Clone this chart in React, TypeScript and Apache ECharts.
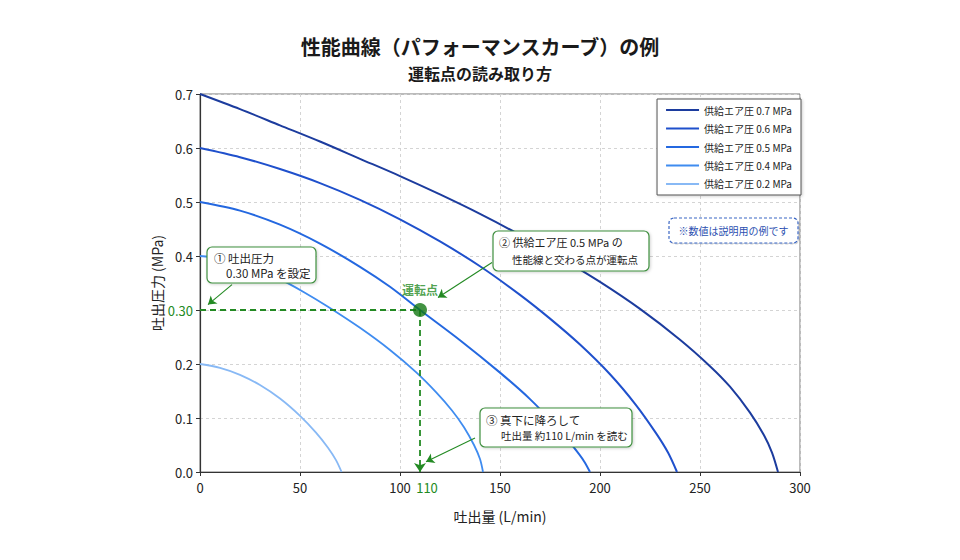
import React, { useEffect, useRef } from "react";
import * as echarts from "echarts";

// Performance curves: discharge flow (L/min) vs discharge pressure (MPa)
const Q_07 = [0, 20, 40, 60, 80, 100, 120, 140, 160, 180, 200, 220, 240, 255, 265, 275, 282, 286, 289];
const P_07 = [0.7, 0.672, 0.642, 0.612, 0.58, 0.548, 0.514, 0.478, 0.439, 0.397, 0.352, 0.302, 0.245, 0.196, 0.158, 0.11, 0.068, 0.036, 0];
const Q_06 = [0, 20, 40, 60, 80, 100, 120, 140, 160, 175, 190, 205, 218, 228, 234, 238.5];
const P_06 = [0.6, 0.583, 0.561, 0.535, 0.504, 0.468, 0.427, 0.381, 0.328, 0.284, 0.236, 0.181, 0.124, 0.072, 0.036, 0];
const Q_05 = [0, 20, 40, 60, 80, 95, 110, 130, 150, 165, 178, 187, 192, 195];
const P_05 = [0.5, 0.484, 0.458, 0.423, 0.38, 0.343, 0.3, 0.244, 0.184, 0.135, 0.085, 0.045, 0.02, 0];
const Q_04 = [0, 13, 26, 39, 52, 64, 80, 95, 108, 118, 126, 132, 137, 140, 141.5];
const P_04 = [0.4, 0.394, 0.381, 0.359, 0.333, 0.306, 0.267, 0.226, 0.185, 0.148, 0.114, 0.083, 0.05, 0.024, 0];
const Q_02 = [0, 10, 20, 30, 40, 50, 58, 64, 68, 70.8];
const P_02 = [0.2, 0.193, 0.18, 0.161, 0.136, 0.104, 0.073, 0.045, 0.022, 0];

const SERIES_NAMES = [
  "供給エア圧 0.7 MPa",
  "供給エア圧 0.6 MPa",
  "供給エア圧 0.5 MPa",
  "供給エア圧 0.4 MPa",
  "供給エア圧 0.2 MPa",
];
const SERIES_COLORS = ["#1c3c9e", "#1f50cc", "#2468e0", "#3f8cf0", "#88b9f5"];
const SERIES_WIDTHS = [2, 2, 2, 1.8, 1.8];

// Operating point
const OP_Q = 110;
const OP_P = 0.3;

const X_LABELS = [0, 50, 100, 110, 150, 200, 250, 300];
const Y_LABELS = [0, 0.1, 0.2, 0.3, 0.4, 0.5, 0.6, 0.7];

const GREEN = "#238a23";
const FONT = "Noto Sans CJK JP";

const zip = (q: number[], p: number[]) => q.map((v, i) => [v, p[i]]);

export default function App() {
  const ref = useRef<HTMLDivElement>(null);

  useEffect(() => {
    if (!ref.current) return;
    const chart = echarts.init(ref.current, null, { renderer: "svg" });
    const curves = [
      zip(Q_07, P_07),
      zip(Q_06, P_06),
      zip(Q_05, P_05),
      zip(Q_04, P_04),
      zip(Q_02, P_02),
    ];

    const curveSeries = curves.map((d, i) => ({
      name: SERIES_NAMES[i],
      type: "line",
      data: d,
      smooth: 0.3,
      symbol: "none",
      lineStyle: { color: SERIES_COLORS[i], width: SERIES_WIDTHS[i] },
      itemStyle: { color: SERIES_COLORS[i] },
      z: 3,
    }));

    const box = (x: number, y: number, w: number, h: number, stroke: string, dash?: number[]) => ({
      type: "rect",
      shape: { x, y, width: w, height: h, r: 5 },
      style: {
        fill: "#fff",
        stroke,
        lineWidth: 1.2,
        lineDash: dash,
        shadowBlur: dash ? 0 : 3,
        shadowColor: "rgba(0,0,0,0.18)",
        shadowOffsetX: 1,
        shadowOffsetY: 1,
      },
      z: 20,
    });
    const txt = (x: number, y: number, text: string, size = 10.5, fill = "#222") => ({
      type: "text",
      x,
      y,
      style: {
        text,
        fill,
        font: `${size}px "${FONT}"`,
        textAlign: "left",
        textVerticalAlign: "middle",
      },
      z: 21,
    });

    chart.setOption({
      animation: false,
      backgroundColor: "#fff",
      textStyle: { fontFamily: FONT },
      title: [
        {
          text: "性能曲線（パフォーマンスカーブ）の例",
          left: "center",
          top: 31,
          textStyle: { fontSize: 20, fontWeight: "bold", color: "#1a1a1a", fontFamily: FONT },
        },
        {
          text: "運転点の読み取り方",
          left: "center",
          top: 60,
          textStyle: { fontSize: 16, fontWeight: "bold", color: "#1a1a1a", fontFamily: FONT },
        },
      ],
      legend: {
        data: SERIES_NAMES,
        orient: "vertical",
        right: 159,
        top: 99,
        itemWidth: 33,
        itemHeight: 10,
        itemGap: 8.5,
        itemStyle: { opacity: 0 },
        padding: [6, 9, 6, 8],
        backgroundColor: "#fff",
        borderColor: "#555",
        borderWidth: 1,
        shadowBlur: 3,
        shadowColor: "rgba(0,0,0,0.2)",
        shadowOffsetX: 1,
        shadowOffsetY: 1,
        textStyle: { fontSize: 10, color: "#222", fontFamily: FONT },
      },
      grid: {
        left: 200,
        right: 160,
        top: 94,
        bottom: 88,
        show: true,
        borderColor: "#777",
        borderWidth: 1,
      },
      xAxis: {
        type: "value",
        min: 0,
        max: 300,
        interval: 50,
        name: "吐出量 (L/min)",
        nameLocation: "middle",
        nameGap: 37,
        nameMoveOverlap: false,
        nameTextStyle: { fontSize: 14, color: "#222", fontFamily: FONT },
        axisLine: { lineStyle: { color: "#333", width: 1.2 } },
        axisTick: { show: true, length: 4, lineStyle: { color: "#333" } },
        axisLabel: {
          customValues: X_LABELS,
          margin: 9,
          fontSize: 13,
          color: "#222",
          fontFamily: FONT,
          formatter: (v: number) => (v === OP_Q ? `{g|${v}}` : String(v)),
          rich: { g: { color: GREEN, fontSize: 13, fontFamily: FONT, padding: [0, 0, 0, 14] } },
        },
        splitLine: { show: true, lineStyle: { color: "#d4d4d4", type: [3, 3] } },
      },
      yAxis: {
        type: "value",
        min: 0,
        max: 0.7,
        interval: 0.1,
        name: "吐出圧力 (MPa)",
        nameLocation: "middle",
        nameGap: 36,
        nameMoveOverlap: false,
        nameTextStyle: { fontSize: 14, color: "#222", fontFamily: FONT },
        axisLine: { show: true, lineStyle: { color: "#333", width: 1.2 } },
        axisTick: { show: true, length: 4, lineStyle: { color: "#333" } },
        axisLabel: {
          customValues: Y_LABELS,
          margin: 7,
          fontSize: 13,
          color: "#222",
          fontFamily: FONT,
          formatter: (v: number) =>
            Math.abs(v - OP_P) < 1e-9 ? `{g|${OP_P.toFixed(2)}}` : v.toFixed(1),
          rich: { g: { color: GREEN, fontSize: 13, fontFamily: FONT } },
        },
        splitLine: { show: true, lineStyle: { color: "#d4d4d4", type: [3, 3] } },
      },
      series: [
        ...curveSeries,
        {
          name: "運転点",
          type: "scatter",
          data: [[OP_Q, OP_P]],
          symbolSize: 14,
          itemStyle: { color: "#137813" },
          label: {
            show: true,
            position: "top",
            distance: 8,
            formatter: "運転点",
            color: GREEN,
            fontSize: 12,
            fontWeight: "bold",
            fontFamily: FONT,
          },
          z: 10,
          markLine: {
            silent: true,
            symbol: ["none", "arrow"],
            symbolSize: 9,
            lineStyle: { color: GREEN, width: 1.8, type: [6, 4] },
            label: { show: false },
            data: [
              [
                { coord: [0, OP_P], symbol: "none" },
                { coord: [OP_Q, OP_P], symbol: "none" },
              ],
              [
                { coord: [OP_Q, OP_P], symbol: "none" },
                { coord: [OP_Q, 0], symbol: "arrow" },
              ],
            ],
            z: 5,
          },
        },
        {
          name: "注記",
          type: "line",
          data: [],
          markLine: {
            silent: true,
            symbol: ["none", "arrow"],
            symbolSize: 8,
            lineStyle: { color: GREEN, width: 1.1, type: "solid" },
            label: { show: false },
            data: [
              [{ coord: [16, 0.347] }, { coord: [4, 0.31] }],
              [{ coord: [146, 0.388] }, { coord: [119, 0.323] }],
              [{ coord: [137.5, 0.063] }, { coord: [113, 0.019] }],
            ],
            z: 6,
          },
        },
      ],
      graphic: [
        box(207, 247, 109, 36, "#3f8f3f"),
        txt(214, 258, "① 吐出圧力", 11.5),
        txt(226, 273, "0.30 MPa を設定", 11.5),
        box(493, 231, 156, 40, "#3f8f3f"),
        txt(499, 242, "② 供給エア圧 0.5 MPa の", 11),
        txt(512, 259, "性能線と交わる点が運転点", 10.5),
        box(480, 408, 152, 39, "#3f8f3f"),
        txt(486, 420, "③ 真下に降ろして", 11.5),
        txt(501, 435, "吐出量 約110 L/min を読む", 10.5),
        box(669, 218, 129, 25, "#3a66c4", [3, 2]),
        {
          type: "text",
          x: 733.5,
          y: 230.5,
          style: {
            text: "※数値は説明用の例です",
            fill: "#2b4fb0",
            font: `10px "${FONT}"`,
            textAlign: "center",
            textVerticalAlign: "middle",
          },
          z: 21,
        },
      ],
    });

    return () => chart.dispose();
  }, []);

  return (
    <div
      ref={ref}
      style={{ position: "fixed", left: 0, top: 0, width: 960, height: 560, background: "#fff" }}
    />
  );
}
